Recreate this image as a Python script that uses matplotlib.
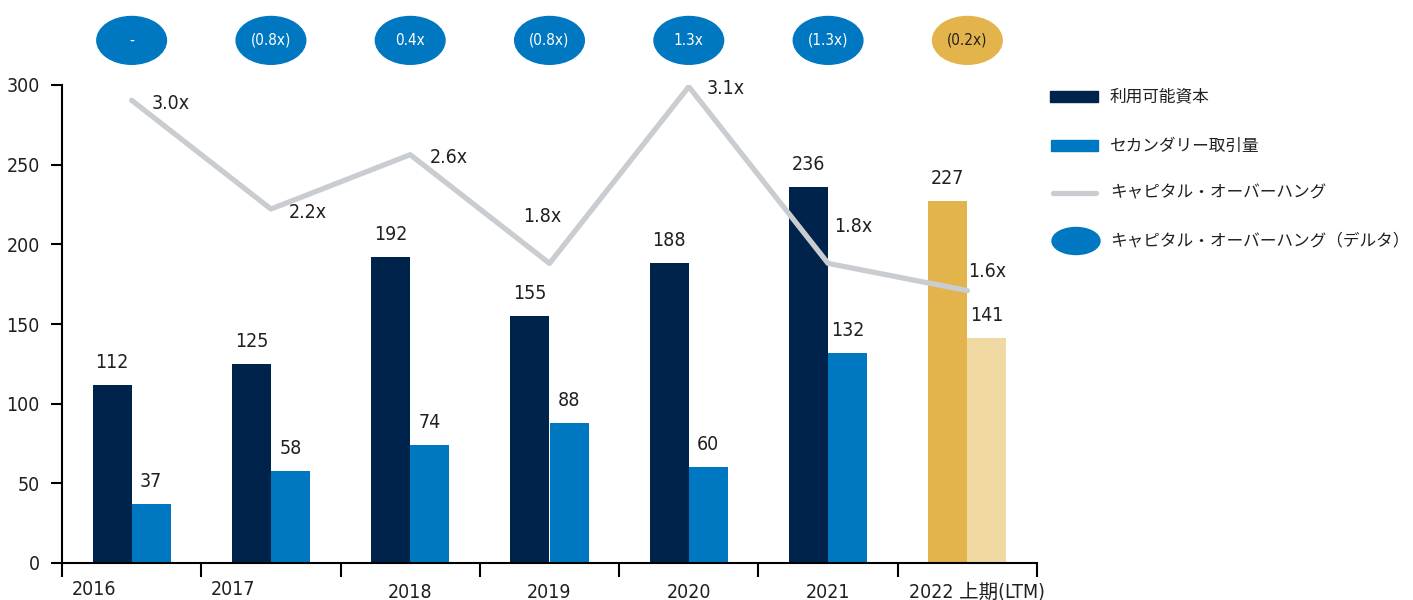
import matplotlib
matplotlib.use("Agg")
import matplotlib.pyplot as plt
from matplotlib.patches import Ellipse, Rectangle
from matplotlib.lines import Line2D
import matplotlib.transforms as mtransforms

plt.rcParams['font.family'] = ['DejaVu Sans', 'Noto Sans CJK JP']
plt.rcParams['font.stretch'] = 'condensed'

years = ["2016", "2017", "2018", "2019", "2020", "2021", "2022 上期(LTM)"]
capital = [112, 125, 192, 155, 188, 236, 227]
secondary = [37, 58, 74, 88, 60, 132, 141]
overhang = [3.0, 2.2, 2.6, 1.8, 3.1, 1.8, 1.6]
overhang_labels = ["3.0x", "2.2x", "2.6x", "1.8x", "3.1x", "1.8x", "1.6x"]
delta_labels = ["-", "(0.8x)", "0.4x", "(0.8x)", "1.3x", "(1.3x)", "(0.2x)"]

navy = "#00234B"
blue = "#0078C1"
gold = "#E3B44B"
light_gold = "#F0D9A2"
gray = "#C9CDD1"
text_col = "#231F20"

cap_colors = [navy] * 6 + [gold]
sec_colors = [blue] * 6 + [light_gold]
delta_colors = [blue] * 6 + [gold]

fig = plt.figure(figsize=(14.13, 6), dpi=100)
ax = fig.add_axes([62 / 1413, 37 / 600, 975 / 1413, 478 / 600])

x = list(range(len(years)))
w = 0.28
b1 = ax.bar([i - w / 2 for i in x], capital, width=w, color=cap_colors, zorder=2)
b2 = ax.bar([i + w / 2 for i in x], secondary, width=w, color=sec_colors, zorder=2)

for rect, v in zip(b1, capital):
    ax.annotate(str(v), (rect.get_x() + rect.get_width() / 2, v), xytext=(0, 13),
                textcoords="offset pixels", ha="center", va="bottom", fontsize=14, color=text_col)
for rect, v in zip(b2, secondary):
    ax.annotate(str(v), (rect.get_x() + rect.get_width() / 2, v), xytext=(0, 13),
                textcoords="offset pixels", ha="center", va="bottom", fontsize=14, color=text_col)

ax.set_xlim(-0.5, 6.5)
ax.set_ylim(0, 300)
ax.set_yticks([0, 50, 100, 150, 200, 250, 300])
ax.tick_params(axis="y", length=8, width=1.5, labelsize=14, labelcolor=text_col, pad=8)
ax.set_xticks([i + 0.5 for i in range(-1, 7)])
ax.set_xticklabels([])
ax.tick_params(axis="x", length=10, width=1.5)
for s in ["top", "right"]:
    ax.spines[s].set_visible(False)
ax.spines["left"].set_linewidth(1.5)
ax.spines["bottom"].set_linewidth(1.5)

# year labels
trans = mtransforms.blended_transform_factory(ax.transData, ax.transAxes)
label_dx = [-0.27, -0.27, 0, 0, 0, 0, 0.07]
label_y = [-0.056, -0.056, -0.061, -0.061, -0.061, -0.061, -0.061]
for i, lab in enumerate(years):
    ax.text(i + label_dx[i], label_y[i], lab, transform=trans, ha="center", va="center",
            fontsize=14, color=text_col)

# capital overhang line on hidden secondary scale
ax2 = ax.twinx()
ax2.set_ylim(-0.4045, 3.1125)
ax2.axis("off")
ax2.plot(x, overhang, color=gray, lw=3.8, solid_capstyle="round", zorder=3)
ov_offsets = [(39, -3), (37, -3), (39, -3), (-7, 47), (37, -2), (25, 37), (20, 19)]
for i, (lab, off) in enumerate(zip(overhang_labels, ov_offsets)):
    ax2.annotate(lab, (i, overhang[i]), xytext=off, textcoords="offset pixels",
                 ha="center", va="center", fontsize=14, color=text_col)

# delta ellipses above the plot
for i, lab in enumerate(delta_labels):
    e = Ellipse((i, 328), 0.5, 30, color=delta_colors[i], clip_on=False, zorder=5)
    ax.add_patch(e)
    ax.text(i, 328, lab, ha="center", va="center", fontsize=11, color="white" if i < 6 else text_col,
            zorder=6, clip_on=False)

# legend drawn in figure pixels
W, H = 1413, 600
def fx(p):
    return p / W
def fy(p):
    return 1 - p / H

legend_labels = ["利用可能資本", "セカンダリー取引量", "キャピタル・オーバーハング", "キャピタル・オーバーハング（デルタ）"]
rows = [97, 146, 193, 241]
fig.add_artist(Rectangle((fx(1050), fy(102)), 48 / W, 11 / H, color=navy, transform=fig.transFigure))
fig.add_artist(Rectangle((fx(1051), fy(151)), 47 / W, 11 / H, color=blue, transform=fig.transFigure))
fig.add_artist(Line2D([fx(1053), fx(1096)], [fy(193), fy(193)], color=gray, lw=3.8,
                      solid_capstyle="round", transform=fig.transFigure))
fig.add_artist(Ellipse((fx(1076), fy(241)), 48 / W, 27 / H, color=blue, transform=fig.transFigure))
for lab, r in zip(legend_labels, rows):
    fig.text(fx(1110), fy(r), lab, ha="left", va="center", fontsize=12, color=text_col,
             family=["Noto Sans CJK JP", "DejaVu Sans"])

fig.savefig("out.png", dpi=100)
